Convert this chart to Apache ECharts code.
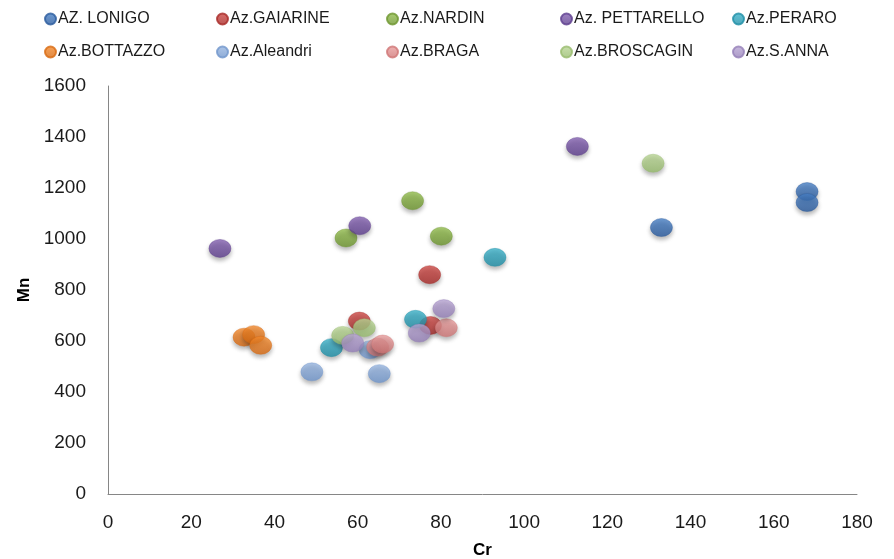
<!DOCTYPE html>
<html>
<head>
<meta charset="utf-8">
<script src="https://cdn.jsdelivr.net/npm/echarts@6/dist/echarts.min.js"></script>
<style>
  html, body { margin: 0; padding: 0; background: #fff; }
  #chart { width: 894px; height: 559px; }
</style>
</head>
<body>
<div id="chart"></div>
<script>
// Cr (x) / Mn (y) pairs per farm
const seriesNames = [
  'AZ. LONIGO', 'Az.GAIARINE', 'Az.NARDIN', 'Az. PETTARELLO', 'Az.PERARO',
  'Az.BOTTAZZO', 'Az.Aleandri', 'Az.BRAGA', 'Az.BROSCAGIN', 'Az.S.ANNA'
];
const lonigo = [[168, 1186], [168, 1143], [133, 1045]];
const gaiarine = [[77.3, 860], [60.4, 678], [77.5, 661]];
const nardin = [[73.2, 1150], [80.1, 1011], [57.2, 1004]];
const pettarello = [[112.8, 1363], [60.5, 1052], [26.9, 963]];
const peraro = [[93, 928], [73.9, 685], [53.7, 574]];
const bottazzo = [[32.7, 615], [35, 625], [36.7, 583]];
const aleandri = [[49, 479], [65.2, 472], [63, 566]];
const braga = [[64.8, 576], [66, 588], [81.3, 652]];
const broscagin = [[131, 1297], [56.4, 622], [61.6, 652]];
const sAnna = [[58.8, 592], [74.8, 631], [80.7, 727]];
const allData = [lonigo, gaiarine, nardin, pettarello, peraro, bottazzo, aleandri, braga, broscagin, sAnna];

const xTicks = { min: 0, max: 180, interval: 20 };
const yTicks = { min: 0, max: 1600, interval: 200 };

const colors = [
  ['#4a82c8', '#2a5b9e'], ['#d04a46', '#a82a28'], ['#95c04e', '#6e9630'],
  ['#8764b4', '#5e3f8e'], ['#3cb4cc', '#1f8ea6'], ['#f68c2e', '#d86a12'],
  ['#9bb8e2', '#7096cc'], ['#eba0a0', '#cf7676'], ['#bcd898', '#98bc6e'],
  ['#bba8d6', '#9580b8']
];

const chart = echarts.init(document.getElementById('chart'));

const fontFam = "'Liberation Sans', sans-serif";

// legend laid out in a 5-column grid, one legend box per entry
const legendCols = [39, 211, 381, 555, 727];
const legends = seriesNames.map((n, i) => ({
  data: [n],
  top: i < 5 ? 6 : 39,
  left: legendCols[i % 5],
  itemWidth: 11,
  itemHeight: 11,
  itemGap: 0,
  icon: 'circle',
  textStyle: { fontFamily: fontFam, fontSize: 16, color: '#1a1a1a', padding: [0, 0, 0, -3] }
}));

const option = {
  backgroundColor: '#fff',
  animation: false,
  legend: legends,
  grid: { left: 108, right: 37, top: 86, bottom: 65, outerBoundsMode: 'none', containLabel: false },
  xAxis: {
    type: 'value',
    min: xTicks.min, max: xTicks.max, interval: xTicks.interval,
    name: 'Cr',
    nameLocation: 'middle',
    nameGap: 48,
    nameTextStyle: { fontFamily: fontFam, fontSize: 17, fontWeight: 'bold', color: '#000' },
    axisLine: { show: true, lineStyle: { color: '#868686', width: 1 } },
    axisTick: { show: false },
    splitLine: { show: false },
    axisLabel: { fontFamily: fontFam, fontSize: 19, color: '#1a1a1a', margin: 19 }
  },
  yAxis: {
    type: 'value',
    min: yTicks.min, max: yTicks.max, interval: yTicks.interval,
    name: 'Mn',
    nameLocation: 'middle',
    nameGap: 74,
    nameTextStyle: { fontFamily: fontFam, fontSize: 17, fontWeight: 'bold', color: '#000' },
    axisLine: { show: true, lineStyle: { color: '#868686', width: 1 } },
    axisTick: { show: false },
    splitLine: { show: false },
    axisLabel: { fontFamily: fontFam, fontSize: 19, color: '#1a1a1a', margin: 22, formatter: v => String(v) }
  },
  series: allData.map((d, i) => ({
    name: seriesNames[i],
    type: 'scatter',
    data: d,
    symbol: 'circle',
    symbolSize: [22, 18],
    itemStyle: {
      color: new echarts.graphic.LinearGradient(0, 0, 0, 1, [
        { offset: 0, color: colors[i][0] },
        { offset: 1, color: colors[i][1] }
      ]),
      borderColor: colors[i][1],
      borderWidth: 0.5,
      shadowBlur: 4,
      shadowOffsetY: 3,
      shadowColor: 'rgba(0,0,0,0.35)'
    }
  }))
};

chart.setOption(option);
</script>
</body>
</html>
